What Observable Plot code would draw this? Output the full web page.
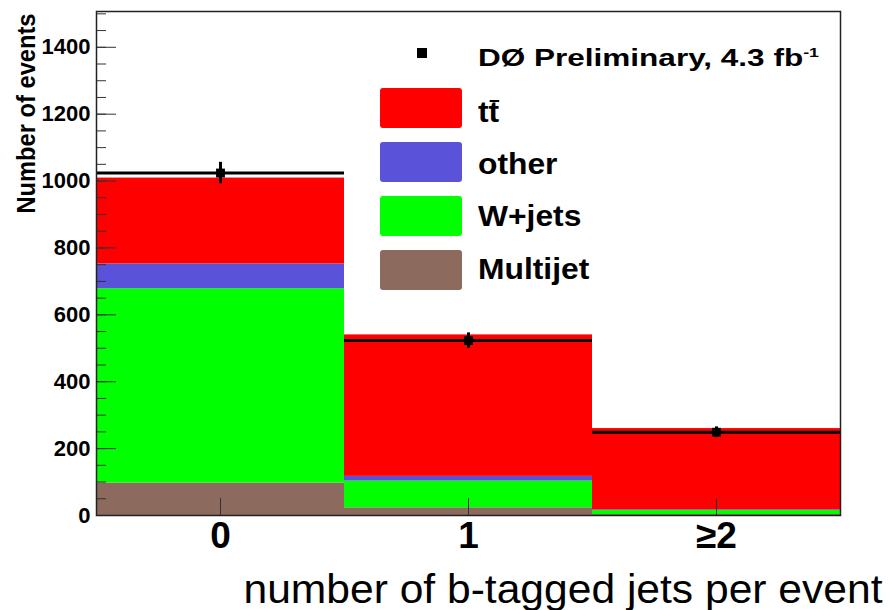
<!DOCTYPE html>
<html>
<head>
<meta charset="utf-8">
<script src="https://cdn.jsdelivr.net/npm/d3@7"></script>
<script src="https://cdn.jsdelivr.net/npm/@observablehq/plot@0.6"></script>
<style>
  body { margin: 0; background: #fff; }
  #wrap { position: relative; width: 889px; height: 610px; font-family: "Liberation Sans", Arial, Helvetica, sans-serif; }
  .lg { position: absolute; font-weight: bold; color: #000; line-height: 1; white-space: nowrap; transform-origin: left center; }
  .sw { position: absolute; border-radius: 3px; }
  .bar { position: relative; }
  .bar i { position: absolute; left: 1px; right: 0px; top: 5px; height: 2.5px; background: #000; }
</style>
</head>
<body>
<div id="wrap"></div>
<script>
// Bin labels and centres (number of b-tagged jets)
const bins = ["0", "1", "≥2"];
const binCenters = [0, 1, 2];

// Stacked predictions per bin, bottom to top
const multijet = [97, 23, 3];
const wjets = [581, 80, 12];
const other = [74, 14, 2];
const ttbar = [257, 423, 243];

// Observed events and their statistical errors
const dataCounts = [1024, 523, 249];
const dataErrors = [32, 23, 16];

// Axis ticks
const yTicks = [0, 200, 400, 600, 800, 1000, 1200, 1400];
const yMinorTicks = d3.range(0, 1501, 50);

const processNames = ["Multijet", "W+jets", "other", "tt̄"];
const processColors = ["#8c6b5e", "#00ff00", "#5a52d8", "#ff0000"];
const processValues = [multijet, wjets, other, ttbar];

const W = 889, H = 610;
const mL = 96, mR = 49, mT = 11, mB = 95;
const plotW = W - mL - mR, plotH = H - mT - mB;

// Build stacked rectangles
const stackRows = [];
binCenters.forEach((c, i) => {
  let base = 0;
  processNames.forEach((name, k) => {
    const v = processValues[k][i];
    stackRows.push({process: name, x1: c - 0.5, x2: c + 0.5, y1: base, y2: base + v});
    base += v;
  });
});

const dataRows = binCenters.map((c, i) => ({c, lo: c - 0.5, hi: c + 0.5, n: dataCounts[i], e: dataErrors[i]}));

const chart = Plot.plot({
  width: W, height: H,
  marginLeft: mL, marginRight: mR, marginTop: mT, marginBottom: mB,
  style: {fontFamily: "Liberation Sans, Arial, Helvetica, sans-serif", background: "#fff", color: "#000"},
  x: {type: "linear", domain: [-0.5, 2.5], axis: null},
  y: {domain: [0, 1507], axis: null},
  color: {domain: processNames, range: processColors},
  marks: [
    Plot.rect(stackRows, {x1: "x1", x2: "x2", y1: "y1", y2: "y2", fill: "process"}),
    // inward tick marks
    Plot.tickY(yMinorTicks, {y: d => d, stroke: "#333", strokeWidth: 1, insetRight: plotW - 10}),
    Plot.tickY(yTicks, {y: d => d, stroke: "#333", strokeWidth: 1, insetRight: plotW - 20}),
    Plot.tickX(binCenters, {x: d => d, stroke: "#333", strokeWidth: 1, insetTop: plotH - 17}),
    // data points with bin-width horizontal bars and vertical error bars
    Plot.ruleY(dataRows, {y: "n", x1: "lo", x2: "hi", stroke: "#000", strokeWidth: 3}),
    Plot.ruleX(dataRows, {x: "c", y1: d => d.n - d.e, y2: d => d.n + d.e, stroke: "#000", strokeWidth: 3}),
    Plot.dot(dataRows, {x: "c", y: "n", symbol: "square", r: 5, fill: "#000", stroke: null}),
    Plot.frame({stroke: "#222", strokeWidth: 1.5}),
    Plot.axisY({ticks: yTicks, tickFormat: d => String(d), tickSize: 0, tickPadding: 6, label: null, fontSize: 22, fontWeight: "bold"}),
    Plot.axisX({ticks: binCenters, tickFormat: i => bins[i], tickSize: 0, tickPadding: 6, label: null, fontSize: 37, fontWeight: "bold"}),
    Plot.text(["Number of events"], {frameAnchor: "top-left", rotate: -90, textAnchor: "end", lineAnchor: "middle", dx: -70, dy: 2, fontSize: 25, fontWeight: "bold"}),
    Plot.text(["number of b-tagged jets per event"], {frameAnchor: "bottom-right", textAnchor: "end", lineAnchor: "middle", dx: 42, dy: 75, fontSize: 40})
  ]
});

const wrap = document.getElementById("wrap");
wrap.appendChild(chart);

// stretch the two axis titles to their drawn lengths
chart.querySelectorAll("text").forEach(t => {
  if (t.textContent === "number of b-tagged jets per event") {
    t.setAttribute("textLength", 639);
    t.setAttribute("lengthAdjust", "spacingAndGlyphs");
  }
  if (t.textContent === "Number of events") {
    t.setAttribute("textLength", 200);
    t.setAttribute("lengthAdjust", "spacingAndGlyphs");
  }
});

// Legend
function addDiv(cls, css, html) {
  const d = document.createElement("div");
  d.className = cls;
  Object.assign(d.style, css);
  if (html != null) d.innerHTML = html;
  wrap.appendChild(d);
  return d;
}
addDiv("sw", {left: "417px", top: "48px", width: "10px", height: "10px", background: "#000", borderRadius: "0"});
addDiv("lg", {left: "478px", top: "47px", fontSize: "23px", transform: "scaleX(1.37)"},
  'DØ Preliminary, 4.3 fb<span style="font-size:13px;position:relative;top:-9px;">-1</span>');

const legendTops = [88, 142, 196, 250];
const legendBaselines = [122, 174, 226, 279];
const legendOrder = [3, 2, 1, 0];
const legendHtml = ['t<span class="bar">t<i></i></span>', "other", "W+jets", "Multijet"];
legendOrder.forEach((k, j) => {
  addDiv("sw", {left: "380px", top: legendTops[j] + "px", width: "82px", height: "40px", background: processColors[k]});
  addDiv("lg", {left: "478px", top: (legendBaselines[j] - 25.4) + "px", fontSize: "30px", transform: "scaleX(1.06)"}, legendHtml[j]);
});
</script>
</body>
</html>
